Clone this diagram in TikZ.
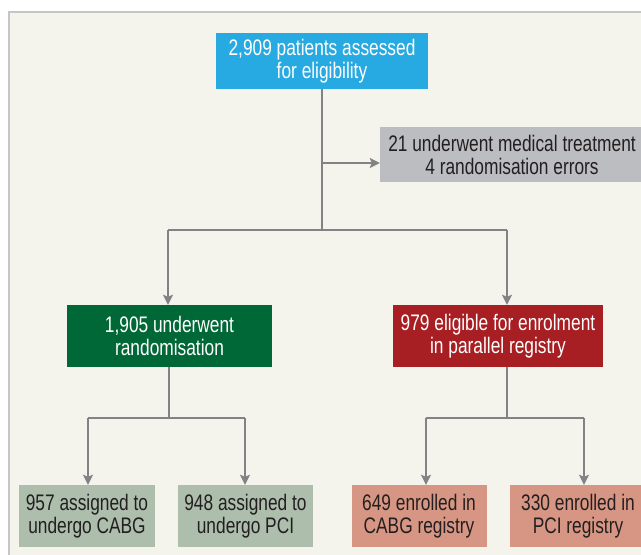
\documentclass[tikz,border=0pt]{standalone}
\usepackage{fontspec}
\setmainfont[FakeStretch=0.77]{Liberation Sans}
\usetikzlibrary{arrows.meta}
\definecolor{bgc}{HTML}{F4F3EC}
\definecolor{brd}{HTML}{C6C6C6}
\definecolor{ln}{HTML}{808285}
\definecolor{blu}{HTML}{27AAE1}
\definecolor{grn}{HTML}{006837}
\definecolor{rd}{HTML}{A71E23}
\definecolor{gry}{HTML}{BCBDC0}
\definecolor{sage}{HTML}{ADBEAC}
\definecolor{salm}{HTML}{D79683}
\definecolor{txt}{HTML}{231F20}
\tikzset{
  box/.style={rectangle, inner sep=0pt, align=center, font=\fontsize{22.5}{23}\selectfont, minimum height=62pt},
  conn/.style={draw=ln, line width=2.4pt},
  arr/.style={conn, -{Stealth[length=10pt,width=10pt,inset=2pt]}},
}
\begin{document}
\begin{tikzpicture}[x=1pt,y=-1pt]
\useasboundingbox (0,0) rectangle (641,555);
\clip (0,0) rectangle (641,555);
\fill[bgc] (9,12) rectangle (660,570);
\draw[brd, line width=1.5pt] (9,570) -- (9,12) -- (660,12);

\node[box, fill=blu, text=white, minimum width=212pt, minimum height=56pt] (top) at (322,61) {2,909 patients assessed\\for eligibility};
\node[box, fill=gry, text=txt, minimum width=264pt, minimum height=55pt] (excl) at (512,154.5) {21 underwent medical treatment\\4 randomisation errors};
\node[box, fill=grn, text=white, minimum width=205pt] (rand) at (169.5,336) {1,905 underwent\\randomisation};
\node[box, fill=rd, text=white, minimum width=210pt] (reg) at (498,336) {979 eligible for enrolment\\in parallel registry};
\node[box, fill=sage, text=txt, minimum width=136pt] (cabg) at (87,516) {957 assigned to\\undergo CABG};
\node[box, fill=sage, text=txt, minimum width=135pt] (pci) at (245.5,516) {948 assigned to\\undergo PCI};
\node[box, fill=salm, text=txt, minimum width=135pt] (rcabg) at (419,516) {649 enrolled in\\CABG registry};
\node[box, fill=salm, text=txt, minimum width=136pt] (rpci) at (578,516) {330 enrolled in\\PCI registry};

\coordinate (s1) at (322,230);
\coordinate (e1) at (322,163);
\coordinate (l1) at (168,230);
\coordinate (r1) at (507,230);
\coordinate (s2) at (169,418);
\coordinate (l2) at (88,418);
\coordinate (r2) at (245,418);
\coordinate (s3) at (507,418);
\coordinate (l3) at (426,418);
\coordinate (r3) at (584,418);

\draw[conn] (top.south) -- (s1);
\draw[arr] (e1) -- (excl.west |- e1);
\draw[conn] (l1) -- (r1);
\draw[arr] (l1) -- (rand.north -| l1);
\draw[arr] (r1) -- (reg.north -| r1);
\draw[conn] (rand.south -| s2) -- (s2);
\draw[conn] (l2) -- (r2);
\draw[arr] (l2) -- (cabg.north -| l2);
\draw[arr] (r2) -- (pci.north -| r2);
\draw[conn] (reg.south -| s3) -- (s3);
\draw[conn] (l3) -- (r3);
\draw[arr] (l3) -- (rcabg.north -| l3);
\draw[arr] (r3) -- (rpci.north -| r3);
\end{tikzpicture}
\end{document}
